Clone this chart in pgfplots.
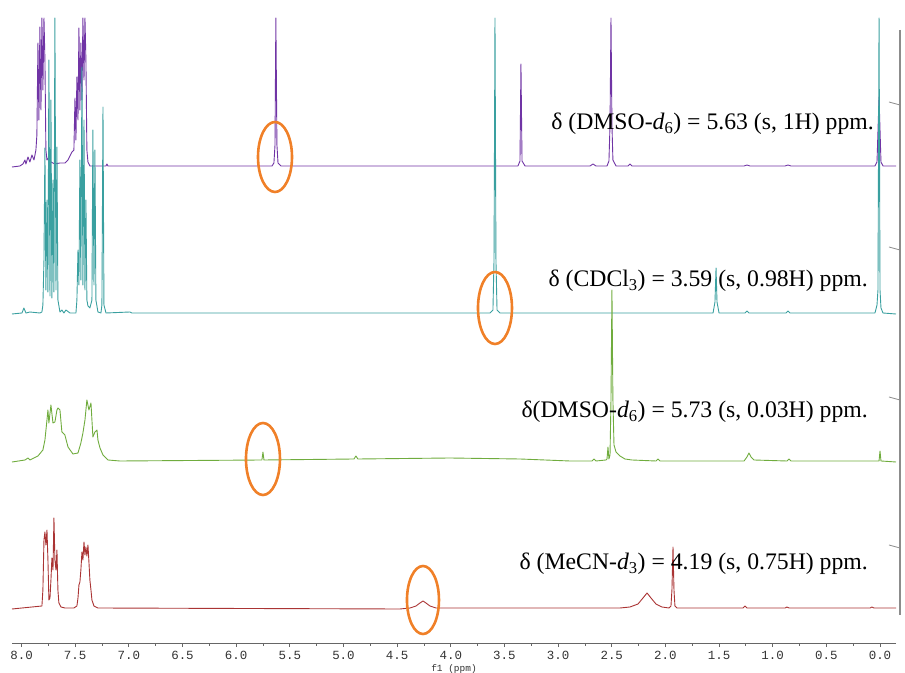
\documentclass[border=0pt]{standalone}
\usepackage{fontspec}
\setmainfont{Liberation Serif}
\newfontfamily\tickfont{Liberation Mono}
\usepackage{pgfplots}
\pgfplotsset{compat=1.18}

\definecolor{cpurple}{RGB}{112,52,165}
\definecolor{cteal}{RGB}{58,160,160}
\definecolor{cgreen}{RGB}{112,172,62}
\definecolor{cred}{RGB}{170,52,52}
\definecolor{corange}{RGB}{240,128,40}

\begin{document}
\begin{tikzpicture}
\useasboundingbox (0,0) rectangle (905bp,673bp);
\begin{axis}[
  at={(12bp,30bp)}, anchor=south west,
  scale only axis, width=884bp, height=625bp,
  xmin=-0.149, xmax=8.089, ymin=-3, ymax=622,
  x dir=reverse,
  axis x line*=bottom, axis y line=none,
  axis line style={-, draw=black!60, line width=0.9bp},
  xtick={0,0.5,1,1.5,2,2.5,3,3.5,4,4.5,5,5.5,6,6.5,7,7.5,8},
  minor x tick num=1,
  tick align=outside, major tick length=4bp, minor tick length=2.5bp,
  tick style={black!60, line width=0.8bp},
  /pgf/number format/assume math mode=true,
  xticklabel style={font=\tickfont\fontsize{12.5}{13}\selectfont, yshift=-1bp,
    text=black!80,
    /pgf/number format/fixed, /pgf/number format/fixed zerofill,
    /pgf/number format/precision=1},
  xlabel={f1 (ppm)},
  xlabel style={font=\tickfont\fontsize{9.5}{10}\selectfont, yshift=2bp, text=black!80},
  clip=false,
  every axis plot/.append style={line width=0.9bp, line join=round},
]

% DMSO-d6, 1 equiv. (top trace)
\addplot[cpurple] coordinates {
(8.089,473) (8.015,474) (7.987,476) (7.968,480) (7.959,476) (7.940,483)
(7.922,478) (7.903,485) (7.884,480) (7.866,490) (7.857,505) (7.847,597)
(7.838,520) (7.829,613) (7.819,530) (7.810,622) (7.801,550) (7.791,622)
(7.782,580) (7.773,490) (7.763,480) (7.745,483) (7.726,478) (7.689,476)
(7.642,477) (7.596,477) (7.567,480) (7.549,484) (7.530,488) (7.512,490)
(7.502,542) (7.493,500) (7.484,563) (7.474,520) (7.465,612) (7.456,530)
(7.447,597) (7.437,540) (7.428,622) (7.418,560) (7.409,622) (7.400,580)
(7.391,490) (7.381,478) (7.363,474) (7.213,474) (7.204,476) (7.195,474)
(5.666,474) (5.648,477) (5.638,495) (5.630,622) (5.620,495) (5.610,477)
(5.583,474) (3.374,474) (3.355,479) (3.346,576) (3.336,479) (3.308,474)
(2.703,474) (2.675,476) (2.647,474) (2.544,474) (2.526,479) (2.516,515)
(2.507,622) (2.498,515) (2.489,480) (2.460,474) (2.349,474) (2.330,476)
(2.311,474) (1.267,474) (1.240,475) (1.212,474) (0.885,474) (0.857,475)
(0.829,474) (0.047,474) (0.028,478) (0.009,543) (-0.009,478) (-0.028,474)
(-0.149,474)
};

% CDCl3
\addplot[cteal] coordinates {
(8.089,326) (7.996,327) (7.978,332) (7.959,327) (7.922,328) (7.829,327)
(7.810,328) (7.801,335) (7.791,380) (7.782,492) (7.773,350) (7.763,440)
(7.754,348) (7.745,580) (7.735,344) (7.726,540) (7.717,342) (7.707,460)
(7.698,348) (7.689,622) (7.679,350) (7.670,493) (7.661,340) (7.642,328)
(7.624,330) (7.605,327) (7.586,330) (7.549,327) (7.493,327) (7.484,340)
(7.474,390) (7.465,355) (7.456,480) (7.447,360) (7.437,573) (7.428,355)
(7.418,520) (7.409,350) (7.400,440) (7.391,340) (7.381,334) (7.363,332)
(7.344,340) (7.335,510) (7.325,355) (7.316,490) (7.307,340) (7.288,328)
(7.260,327) (7.251,335) (7.241,533) (7.232,335) (7.213,327) (6.990,328)
(6.971,327) (3.635,327) (3.607,330) (3.597,380) (3.588,622) (3.579,380)
(3.569,330) (3.541,327) (1.556,327) (1.538,338) (1.528,372) (1.519,338)
(1.500,327) (1.258,327) (1.240,329) (1.221,327) (0.876,327) (0.857,329)
(0.839,327) (0.047,327) (0.028,335) (0.019,350) (0.009,622) (0.000,350)
(-0.009,332) (-0.028,327) (-0.149,326)
};

% DMSO-d6, 0.03 equiv.
\addplot[cgreen] coordinates {
(8.089,178) (7.968,180) (7.940,182) (7.922,180) (7.847,184) (7.801,190)
(7.782,200) (7.763,220) (7.754,230) (7.745,217) (7.726,235) (7.707,217)
(7.689,218) (7.670,230) (7.661,232) (7.642,230) (7.624,208) (7.596,205)
(7.567,193) (7.521,186) (7.474,187) (7.447,197) (7.428,207) (7.409,220)
(7.391,240) (7.372,230) (7.353,237) (7.335,203) (7.316,208) (7.297,210)
(7.288,200) (7.269,192) (7.241,185) (7.195,180) (7.083,179) (5.760,180)
(5.750,188) (5.741,180) (4.902,181) (4.884,184) (4.865,181) (4.007,182)
(3.355,181) (2.889,179) (2.684,179) (2.665,181) (2.647,179) (2.554,180)
(2.544,181) (2.535,193) (2.526,181) (2.516,185) (2.507,240) (2.498,350)
(2.489,240) (2.479,195) (2.460,188) (2.423,184) (2.377,181) (2.311,180)
(2.088,179) (2.069,181) (2.050,179) (1.267,179) (1.240,183) (1.221,187)
(1.202,183) (1.174,180) (0.867,179) (0.848,181) (0.829,179) (0.009,179)
(0.000,189) (-0.009,179) (-0.149,178)
};

% MeCN-d3
\addplot[cred] coordinates {
(8.089,31) (7.810,34) (7.801,50) (7.791,100) (7.782,108) (7.773,95)
(7.763,110) (7.754,80) (7.745,40) (7.735,42) (7.726,60) (7.717,82)
(7.707,70) (7.698,122) (7.689,80) (7.679,70) (7.670,90) (7.661,50)
(7.652,37) (7.633,33) (7.596,32) (7.512,32) (7.484,34) (7.474,42)
(7.465,55) (7.456,58) (7.447,70) (7.437,88) (7.428,80) (7.418,98)
(7.409,85) (7.400,93) (7.391,84) (7.381,95) (7.372,78) (7.363,60)
(7.353,50) (7.344,40) (7.325,34) (7.288,32) (4.474,31) (4.380,32)
(4.324,34) (4.287,37) (4.259,39) (4.231,37) (4.194,34) (4.138,32)
(2.423,32) (2.330,33) (2.255,36) (2.209,42) (2.171,47) (2.134,42)
(2.088,36) (2.032,33) (1.967,32) (1.948,34) (1.939,50) (1.929,93)
(1.920,50) (1.911,34) (1.892,32) (1.277,32) (1.258,34) (1.240,32)
(0.885,32) (0.867,33) (0.848,32) (0.093,32) (0.075,33) (0.056,32)
(-0.149,32)
};

% marked signals
\draw[corange, line width=2.6bp] (axis cs:5.638,483) ellipse [x radius=17bp, y radius=35bp];
\draw[corange, line width=2.6bp] (axis cs:3.588,332) ellipse [x radius=17bp, y radius=36bp];
\draw[corange, line width=2.6bp] (axis cs:5.750,181) ellipse [x radius=17bp, y radius=36bp];
\draw[corange, line width=2.6bp] (axis cs:4.259,40) ellipse [x radius=16bp, y radius=34bp];

% intensity axis on the right
\draw[black!45, line width=1.2bp] (axis cs:-0.186,610) -- (axis cs:-0.186,25);
\draw[black!45, line width=0.8bp] (axis cs:-0.186,535) -- ++(5bp,0);
\draw[black!45, line width=0.8bp] (axis cs:-0.186,390) -- ++(5bp,0);
\draw[black!45, line width=0.8bp] (axis cs:-0.186,240) -- ++(5bp,0);
\draw[black!45, line width=0.8bp] (axis cs:-0.186,92) -- ++(5bp,0);

\node[anchor=base east, inner sep=0pt, font=\fontsize{23.8}{26}\selectfont] at (axis cs:0.056,510) {δ (DMSO-\textit{d}\textsubscript{6}) = 5.63 (s, 1H) ppm.};
\node[anchor=base east, inner sep=0pt, font=\fontsize{23.8}{26}\selectfont] at (axis cs:0.112,353) {δ (CDCl\textsubscript{3}) = 3.59 (s, 0.98H) ppm.};
\node[anchor=base east, inner sep=0pt, font=\fontsize{23.8}{26}\selectfont] at (axis cs:0.112,222) {δ(DMSO-\textit{d}\textsubscript{6}) = 5.73 (s, 0.03H) ppm.};
\node[anchor=base east, inner sep=0pt, font=\fontsize{23.8}{26}\selectfont] at (axis cs:0.112,70) {δ (MeCN-\textit{d}\textsubscript{3}) = 4.19 (s, 0.75H) ppm.};
\end{axis}
\end{tikzpicture}
\end{document}
